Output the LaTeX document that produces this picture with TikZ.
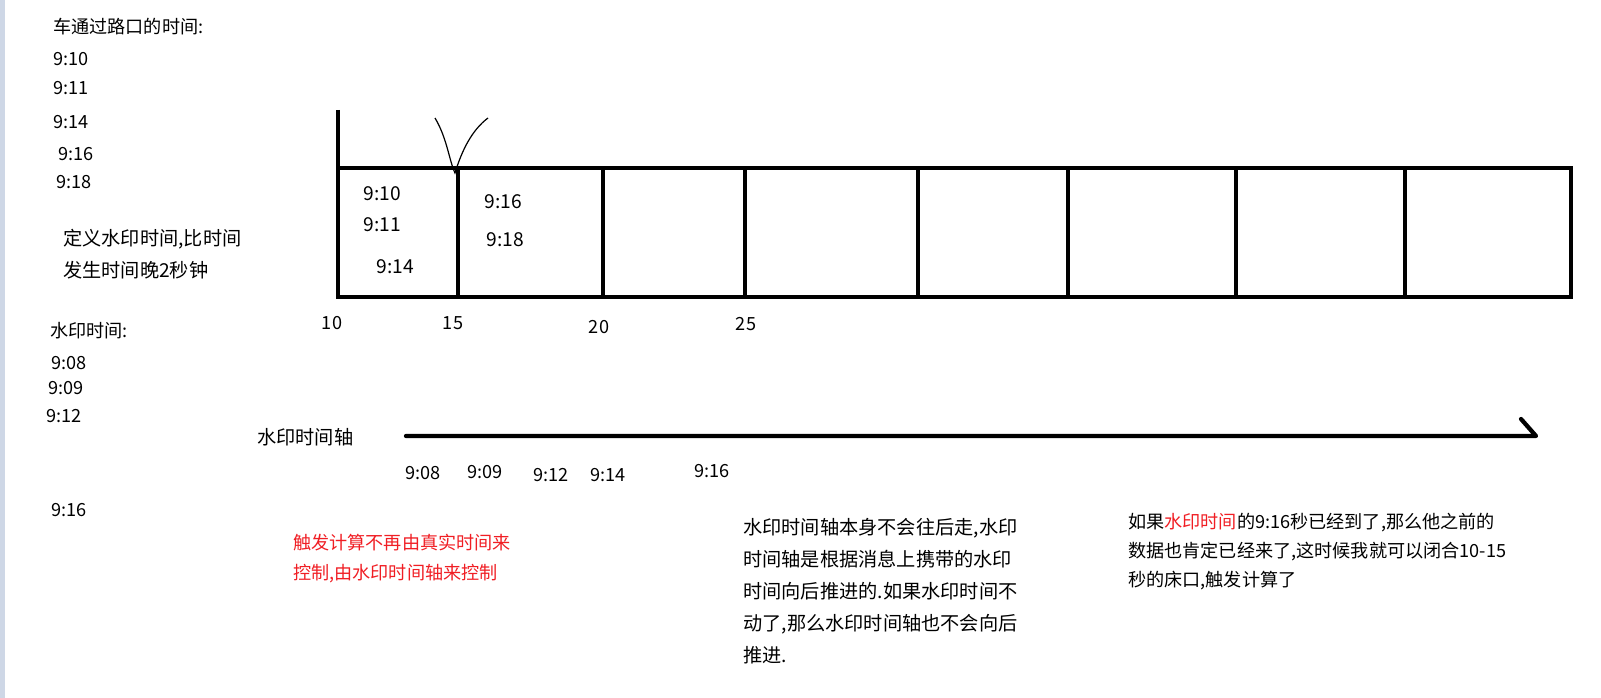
\documentclass[tikz,border=0pt]{standalone}
\usepackage{fontspec}
\setmainfont{Noto Sans CJK SC}
\definecolor{stripe}{RGB}{206,215,230}
\definecolor{warn}{RGB}{240,30,36}

\begin{document}
\begin{tikzpicture}[x=0.75pt,y=-0.75pt,
  every node/.style={inner sep=0pt,font=\fontsize{13.6}{24}\selectfont},
  txt/.style={anchor=base west,align=left},
  big/.style={font=\fontsize{14.4}{24}\selectfont},
  bar/.style={line width=3pt}]
\useasboundingbox (0,0) rectangle (1601,698);
\fill[stripe] (0,0) rectangle (5,698);
% event times on the left
\node[txt] (evtitle) at (53,34) {车通过路口的时间:};
\node[txt] (ev1) at (53,66) {9:10};
\node[txt] (ev2) at (53,95) {9:11};
\node[txt] (ev3) at (53,129) {9:14};
\node[txt] (ev4) at (58,161) {9:16};
\node[txt] (ev5) at (56,189) {9:18};
\node[txt,big] (rule) at (63,278) {定义水印时间,比时间\\发生时间晚2秒钟};
% watermark times on the left
\node[txt] (wmtitle) at (50,338) {水印时间:};
\node[txt] (wm1) at (51,369) {9:08};
\node[txt] (wm2) at (48,394) {9:09};
\node[txt] (wm3) at (46,422) {9:12};
\node[txt] (wm4) at (51,516) {9:16};
% windows
\draw[bar] (338,110) -- (338,178);
\draw[bar] (338,168) rectangle (1571,297);
\foreach \x in {458,603,745,918,1068,1236,1405}
  \draw[bar] (\x,168) -- (\x,297);
\draw[line width=0.9pt] (435,118) .. controls (447,138) and (449,160) .. (455,173)
  .. controls (462,150) and (472,130) .. (488,118);
\node[big] (c1) at (382,194) {9:10};
\node[big] (c2) at (382,225) {9:11};
\node[big] (c3) at (395,267) {9:14};
\node[big] (c4) at (503,202) {9:16};
\node[big] (c5) at (505,240) {9:18};
\node (t10) at (332,323) {10};
\node (t15) at (453,323) {15};
\node (t20) at (599,327) {20};
\node (t25) at (746,324) {25};
% watermark axis
\node[anchor=west,big] (axis) at (257,437) {水印时间轴};
\coordinate (axstart) at (406,436);
\coordinate (axend) at (1536,436);
\coordinate (axbarb) at (1521,419);
\draw[line width=3.2pt,line cap=round,line join=round] (axstart) -- (axend) -- (axbarb);
\node (a1) at (423,473) {9:08};
\node (a2) at (485,472) {9:09};
\node (a3) at (551,475) {9:12};
\node (a4) at (608,475) {9:14};
\node (a5) at (712,471) {9:16};
% notes
\node[txt,text=warn,font=\fontsize{13.6}{22.5}\selectfont] (trigger) at (293,579)
  {触发计算不再由真实时间来\\控制,由水印时间轴来控制};
\node[txt,big] (advance) at (743,662)
  {水印时间轴本身不会往后走,水印\\时间轴是根据消息上携带的水印\\时间向后推进的.如果水印时间不\\动了,那么水印时间轴也不会向后\\推进.};
\node[txt,font=\fontsize{13.6}{21.4}\selectfont] (close) at (1128,586)
  {如果\textcolor{warn}{水印时间}的9:16秒已经到了,那么他之前的\\数据也肯定已经来了,这时候我就可以闭合10-15\\秒的床口,触发计算了};
\end{tikzpicture}
\end{document}
